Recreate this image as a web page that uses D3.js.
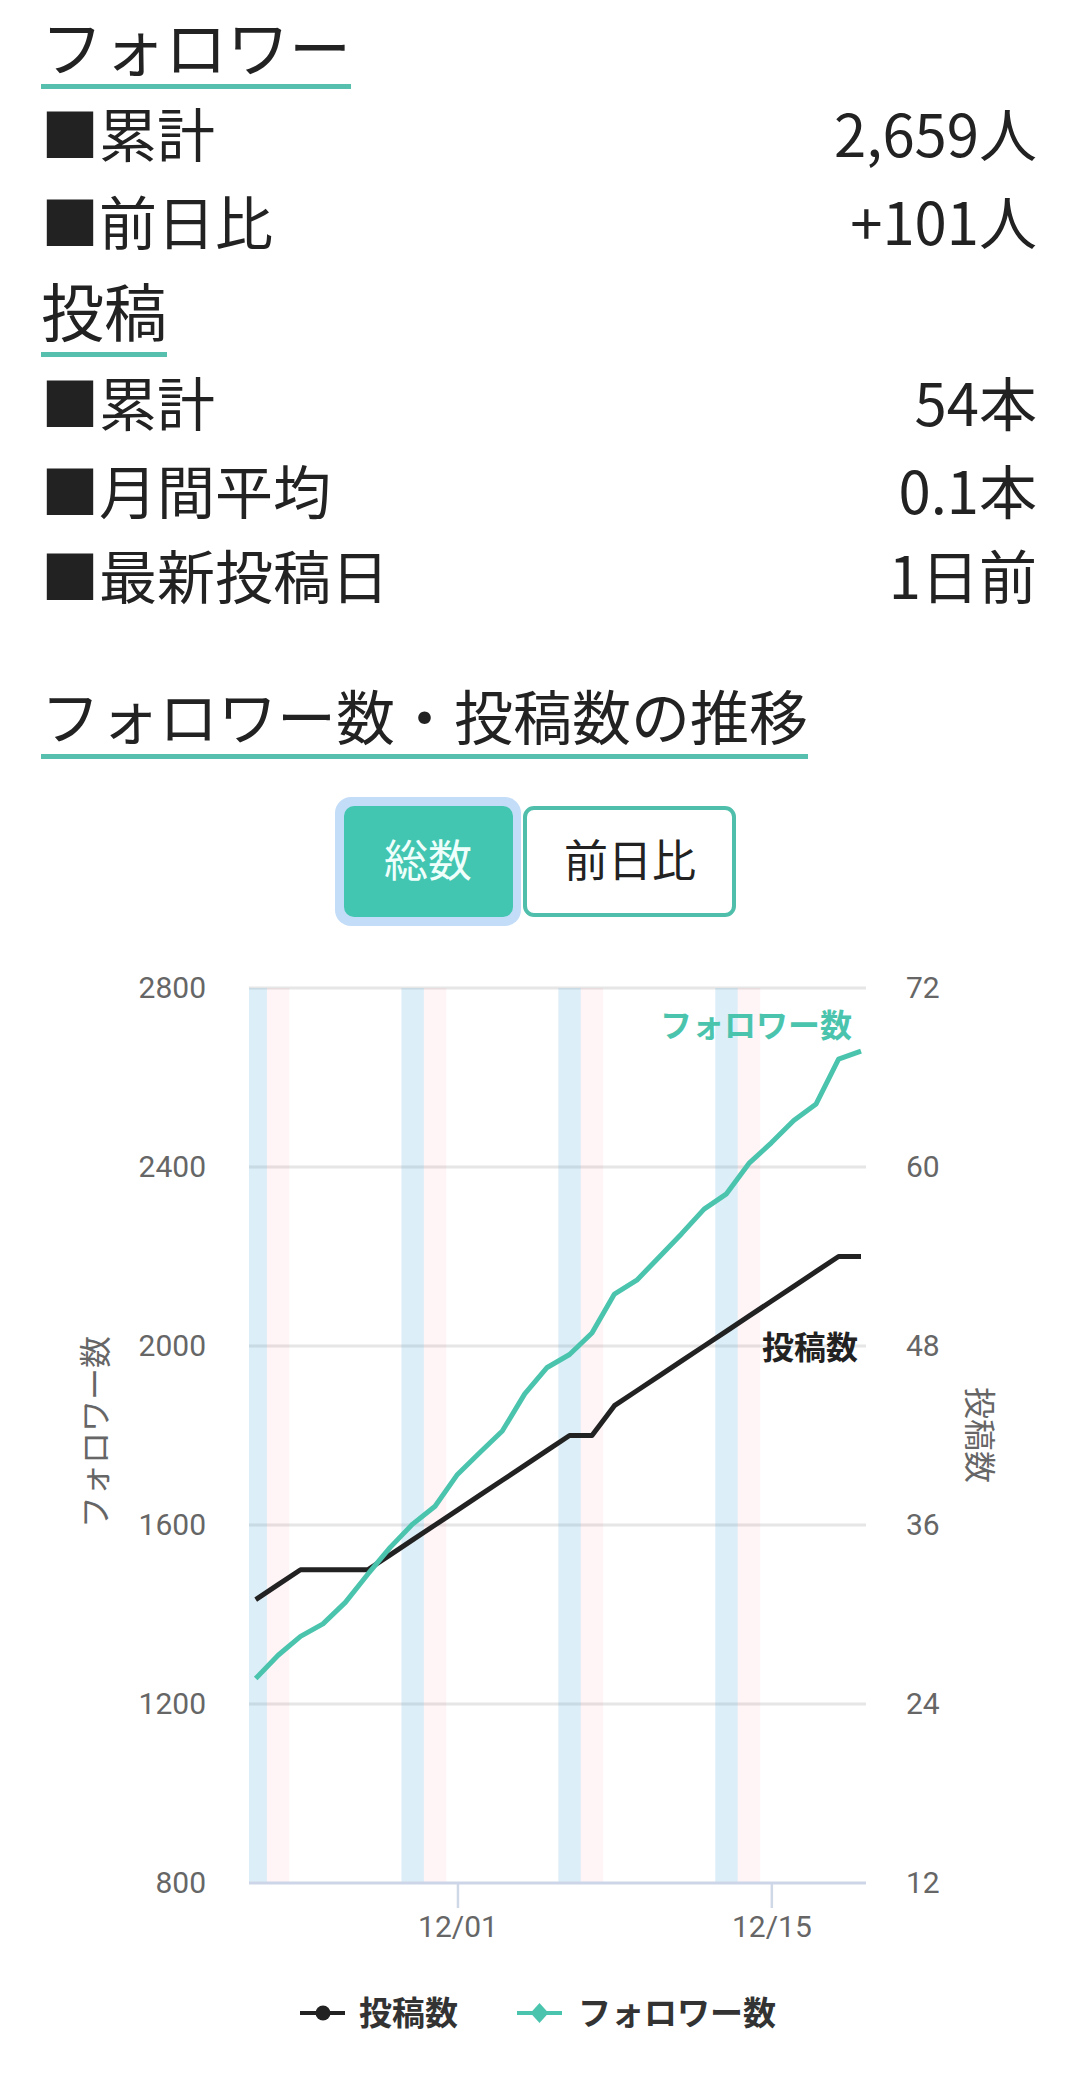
<!DOCTYPE html>
<html>
<head>
<meta charset="utf-8">
<script src="https://cdn.jsdelivr.net/npm/d3@7"></script>
<style>
  html, body { margin: 0; padding: 0; background: #fff; }
  svg { display: block; }
</style>
</head>
<body>
<svg id="page" width="1080" height="2077"></svg>
<script>
// ---------- data ----------
const dates = ["2025-11-22","2025-11-23","2025-11-24","2025-11-25","2025-11-26","2025-11-27","2025-11-28",
  "2025-11-29","2025-11-30","2025-12-01","2025-12-02","2025-12-03","2025-12-04","2025-12-05",
  "2025-12-06","2025-12-07","2025-12-08","2025-12-09","2025-12-10","2025-12-11","2025-12-12",
  "2025-12-13","2025-12-14","2025-12-15","2025-12-16","2025-12-17","2025-12-18","2025-12-19"];
const followers = [1257,1309,1351,1379,1427,1490,1550,1602,1642,1713,1762,1810,1893,1952,
  1981,2029,2116,2147,2199,2251,2306,2340,2408,2454,2504,2541,2641,2659];
const posts = [31,32,33,33,33,33,34,35,36,37,38,39,40,41,42,42,44,45,46,47,48,49,50,51,52,53,54,54];
const leftTicks = [800,1200,1600,2000,2400,2800];
const rightTicks = [12,24,36,48,60,72];
const xTickDates = ["2025-12-01","2025-12-15"];
const followerStats = [["■累計","2,659人"],["■前日比","+101人"]];
const postStats = [["■累計","54本"],["■月間平均","0.1本"],["■最新投稿日","1日前"]];

// ---------- setup ----------
const svg = d3.select("#page");
const JP = "'Noto Sans CJK JP', 'Noto Sans', sans-serif";
const CH = "Roboto, 'Noto Sans CJK JP', sans-serif";
const TEAL = "#4bc4ae";
const parse = d3.utcParse("%Y-%m-%d");
const dts = dates.map(parse);

// ---------- header ----------
function heading(text, x, y, size, lineY) {
  const t = svg.append("text").attr("x", x).attr("y", y)
    .attr("font-family", JP).attr("font-size", size).attr("fill", "#222").text(text);
  const w = t.node().getComputedTextLength();
  svg.append("rect").attr("x", x).attr("y", lineY).attr("width", w).attr("height", 5).attr("fill", "#56bfae");
}
function statRows(rows, ys) {
  rows.forEach((r, i) => {
    svg.append("text").attr("x", 41).attr("y", ys[i]).attr("font-family", JP)
      .attr("font-size", 58).attr("fill", "#222").text(r[0]);
    svg.append("text").attr("x", 1037).attr("y", ys[i]).attr("font-family", JP)
      .attr("font-size", 58).attr("fill", "#222").attr("text-anchor", "end").text(r[1]);
  });
}
heading("フォロワー", 41, 72, 62, 84);
statRows(followerStats, [157, 245]);
heading("投稿", 41, 336, 63, 352);
statRows(postStats, [426, 514, 599]);
heading("フォロワー数・投稿数の推移", 41, 740, 59, 754);

// ---------- buttons ----------
svg.append("rect").attr("x", 335).attr("y", 797).attr("width", 186).attr("height", 129)
  .attr("rx", 16).attr("fill", "#c3ddf8");
svg.append("rect").attr("x", 344).attr("y", 806).attr("width", 169).attr("height", 111)
  .attr("rx", 10).attr("fill", "#43c6b1");
svg.append("text").attr("x", 428).attr("y", 877).attr("text-anchor", "middle")
  .attr("font-family", JP).attr("font-size", 44).attr("fill", "#effffb").text("総数");
svg.append("rect").attr("x", 525).attr("y", 808).attr("width", 209).attr("height", 107)
  .attr("rx", 9).attr("fill", "#fff").attr("stroke", "#4fbfac").attr("stroke-width", 4);
svg.append("text").attr("x", 630).attr("y", 877).attr("text-anchor", "middle")
  .attr("font-family", JP).attr("font-size", 44).attr("fill", "#222").text("前日比");

// ---------- chart ----------
const plotL = 249, plotR = 866, plotT = 988, plotB = 1883;
const x = d3.scaleUtc().domain([dts[0], dts[dts.length - 1]]).range([255.7, 861]);
const yL = d3.scaleLinear().domain([800, 2800]).range([plotB, plotT]);
const yR = d3.scaleLinear().domain([12, 72]).range([plotB, plotT]);
const dayW = x(dts[1]) - x(dts[0]);

const chart = svg.append("g");
chart.append("defs").append("clipPath").attr("id", "plotclip")
  .append("rect").attr("x", plotL).attr("y", plotT).attr("width", plotR - plotL).attr("height", plotB - plotT);

// gridlines
chart.append("g").selectAll("line").data(leftTicks.slice(1)).join("line")
  .attr("x1", plotL).attr("x2", plotR).attr("y1", d => yL(d)).attr("y2", d => yL(d))
  .attr("stroke", "#e6e6e6").attr("stroke-width", 3);

// weekend bands (Saturday blue, Sunday pink)
chart.append("g").attr("clip-path", "url(#plotclip)").selectAll("rect")
  .data(dts.filter(d => d.getUTCDay() === 6 || d.getUTCDay() === 0)).join("rect")
  .attr("x", d => x(d) - dayW / 2).attr("width", dayW)
  .attr("y", plotT).attr("height", plotB - plotT)
  .attr("fill", d => d.getUTCDay() === 6 ? "rgba(80,170,220,0.2)" : "rgba(255,99,132,0.07)");

// bottom axis
const xAxis = d3.axisBottom(x).tickValues(xTickDates.map(parse)).tickFormat(d3.utcFormat("%m/%d"))
  .tickSize(25).tickPadding(6);
const gx = chart.append("g").attr("transform", `translate(0,${plotB})`).call(xAxis);
gx.select(".domain").remove();
gx.selectAll(".tick line").attr("stroke", "#cfd8e6").attr("stroke-width", 2.5);
gx.selectAll(".tick text").attr("font-family", CH).attr("font-size", 30).attr("fill", "#666").attr("dy", "0.75em");
chart.append("line").attr("x1", plotL).attr("x2", plotR).attr("y1", plotB).attr("y2", plotB)
  .attr("stroke", "#cdd5e8").attr("stroke-width", 3);

// left axis
const gl = chart.append("g").attr("transform", "translate(206,0)")
  .call(d3.axisLeft(yL).tickValues(leftTicks).tickSize(0).tickPadding(0).tickFormat(d3.format("d")));
gl.select(".domain").remove();
gl.selectAll(".tick text").attr("font-family", CH).attr("font-size", 30).attr("fill", "#666");

// right axis
const gr = chart.append("g").attr("transform", "translate(906,0)")
  .call(d3.axisRight(yR).tickValues(rightTicks).tickSize(0).tickPadding(0));
gr.select(".domain").remove();
gr.selectAll(".tick text").attr("font-family", CH).attr("font-size", 30).attr("fill", "#666");

// axis titles
chart.append("text").attr("transform", "translate(107,1432) rotate(-90)").attr("text-anchor", "middle")
  .attr("font-family", CH).attr("font-size", 32).attr("fill", "#666").text("フォロワー数");
chart.append("text").attr("transform", "translate(968,1435) rotate(90)").attr("text-anchor", "middle")
  .attr("font-family", CH).attr("font-size", 32).attr("fill", "#666").text("投稿数");

// lines
const lineF = d3.line().x((d, i) => x(dts[i])).y(d => yL(d));
const lineP = d3.line().x((d, i) => x(dts[i])).y(d => yR(d));
chart.append("path").datum(posts).attr("d", lineP).attr("fill", "none")
  .attr("stroke", "#222").attr("stroke-width", 5).attr("stroke-linejoin", "round");
chart.append("path").datum(followers).attr("d", lineF).attr("fill", "none")
  .attr("stroke", TEAL).attr("stroke-width", 5).attr("stroke-linejoin", "round");

// line labels
chart.append("text").attr("x", 852).attr("y", 1037).attr("text-anchor", "end")
  .attr("font-family", CH).attr("font-weight", 700).attr("font-size", 32).attr("fill", TEAL).text("フォロワー数");
chart.append("text").attr("x", 858).attr("y", 1359).attr("text-anchor", "end")
  .attr("font-family", CH).attr("font-weight", 700).attr("font-size", 32).attr("fill", "#222").text("投稿数");

// legend
const lg = svg.append("g");
lg.append("line").attr("x1", 300).attr("x2", 345).attr("y1", 2013).attr("y2", 2013)
  .attr("stroke", "#222").attr("stroke-width", 4);
lg.append("circle").attr("cx", 323).attr("cy", 2013).attr("r", 7.5).attr("fill", "#222");
lg.append("text").attr("x", 359).attr("y", 2025).attr("font-family", CH).attr("font-weight", 700)
  .attr("font-size", 33).attr("fill", "#333").text("投稿数");
lg.append("line").attr("x1", 517).attr("x2", 562).attr("y1", 2013).attr("y2", 2013)
  .attr("stroke", TEAL).attr("stroke-width", 4);
lg.append("path").attr("d", "M539.5,2003 L548.5,2013 L539.5,2023 L530.5,2013 Z").attr("fill", TEAL);
lg.append("text").attr("x", 578).attr("y", 2025).attr("font-family", CH).attr("font-weight", 700)
  .attr("font-size", 33).attr("fill", "#333").text("フォロワー数");
</script>
</body>
</html>
